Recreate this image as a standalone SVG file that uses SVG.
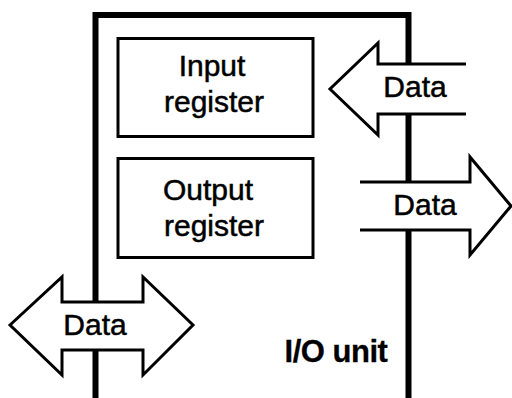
<svg xmlns="http://www.w3.org/2000/svg" width="512" height="398" viewBox="0 0 512 398">
<style>
.t{font-family:"Liberation Sans",Arial,sans-serif;font-size:30px;fill:#000;stroke:#000;stroke-width:0.5;text-anchor:middle}
.b{font-weight:bold;font-size:31px;letter-spacing:-0.5px;stroke-width:0.3}
.reg{fill:#fff;stroke:#000;stroke-width:3}
.afill{fill:#fff;stroke:none}
.aline{fill:none;stroke:#000;stroke-width:3;stroke-linejoin:miter}
.unit{fill:none;stroke:#000;stroke-width:6}
</style>
<g id="io-unit">
<polyline class="unit" points="95.5,398 95.5,15 408.5,15 408.5,398"/>
<text class="t b" x="336" y="362">I/O unit</text>
</g>
<g id="input-register">
<rect class="reg" x="118" y="38.5" width="195" height="98"/>
<text class="t" x="212" y="76">Input</text>
<text class="t" x="214" y="112">register</text>
</g>
<g id="output-register">
<rect class="reg" x="118" y="158.5" width="195" height="99"/>
<text class="t" x="208" y="200">Output</text>
<text class="t" x="214" y="236">register</text>
</g>
<g id="connectors">
<g id="data-in">
<polygon class="afill" points="466,64 378,64 378,43 330,89 378,135 378,114 466,114"/>
<polyline class="aline" points="466,64 378,64 378,43 330,89 378,135 378,114 466,114"/>
<text class="t" x="415" y="97">Data</text>
</g>
<g id="data-out">
<polygon class="afill" points="360,182 470,182 470,157 511,206 470,255 470,230 360,230"/>
<polyline class="aline" points="360,182 470,182 470,157 511,206 470,255 470,230 360,230"/>
<text class="t" x="425" y="215">Data</text>
</g>
<g id="data-bus">
<polygon class="afill" points="10,325 62,277 62,302 143,302 143,277 193,325 143,375 143,350 62,350 62,375"/>
<polygon class="aline" points="10,325 62,277 62,302 143,302 143,277 193,325 143,375 143,350 62,350 62,375"/>
<text class="t" x="95" y="335">Data</text>
</g>
</g>
</svg>
